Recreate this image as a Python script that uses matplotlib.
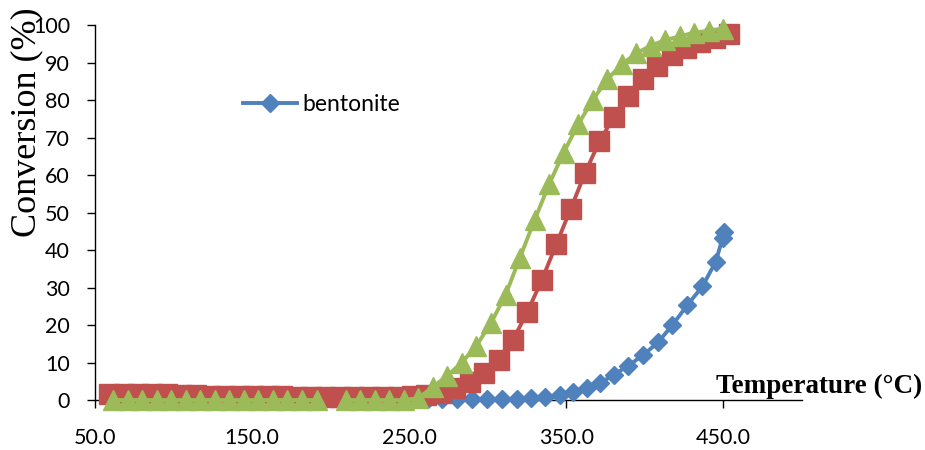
import matplotlib
matplotlib.use("Agg")
import matplotlib.pyplot as plt
from matplotlib.ticker import FormatStrFormatter
import numpy as np

# bentonite (blue diamonds)
temp_bent = [262, 271, 280.6, 290, 299.7, 309, 318.8, 327.5, 336.6, 346, 354.5,
             363.4, 371.7, 380.5, 389.5, 399, 408.6, 417.5, 427, 436.6, 445,
             449.5, 450.5]
conv_bent = [0.4, 0.4, 0.3, 0.3, 0.2, 0.2, 0.3, 0.5, 0.9, 1.4, 2.1,
             3.2, 4.6, 6.8, 9.2, 12, 15.5, 20, 25.3, 30.3, 36.8,
             43.2, 44.8]

# second sample (red squares)
temp_red = [59.0, 68.2, 77.4, 86.5, 95.7, 104.9, 114.1, 123.3, 132.4, 141.6,
            150.8, 160.0, 169.2, 178.3, 187.5, 196.7, 205.9, 215.1, 224.2, 233.4,
            242.6, 251.8, 261.0, 270.1, 279.3, 288.5, 297.7, 306.9, 316.0, 325.2,
            334.4, 343.6, 352.8, 361.9, 371.1, 380.3, 389.5, 398.7, 407.8, 417.0,
            426.2, 435.4, 444.6, 453.7]
conv_red = [1.7, 1.7, 1.7, 1.7, 1.5, 1.4, 1.3, 1.2, 1.1, 1.1,
            1.0, 1.0, 1.0, 0.9, 0.9, 0.9, 0.8, 0.8, 0.8, 0.8,
            0.9, 1.0, 1.3, 1.9, 3.2, 4.8, 7.2, 10.7, 16, 23.5,
            32, 41.5, 51, 60.5, 69, 75.5, 81, 85.5, 89, 92,
            94, 95.5, 96.5, 97.5]

# third sample (green triangles), one missing reading near 200
temp_grn = [61.5, 70.8, 80, 89.3, 98.5, 107.8, 117, 126.3, 135.5, 144.8,
            154, 163.3, 172.5, 181.8, 191, 200.3, 209.5, 218.8, 228, 237.3,
            246.5, 255.8, 265, 274.3, 283.5, 292.8, 302, 311.3, 320.5, 329.8,
            339, 348.3, 357.5, 366.8, 376, 385.3, 394.5, 403.8, 413, 422.3,
            431.5, 440.8, 450]
conv_grn = [0, 0, 0, 0, 0, 0, 0, 0, 0, 0,
            0, 0, 0, 0, 0, np.nan, 0, 0, 0, 0,
            0, 0.5, 3.5, 6.5, 10, 14.5, 20.5, 28, 38, 48,
            57.5, 66, 73.5, 80, 85.5, 89.5, 92.5, 94.5, 96, 97,
            98, 98.5, 99]

xticks = [50, 150, 250, 350, 450]
yticks = list(range(0, 101, 10))

fig = plt.figure(figsize=(9.25, 4.5), dpi=100)
ax = fig.add_axes([0.1027, 0.111, 0.7643, 0.8333])

lb, = ax.plot(temp_bent, conv_bent, color="#4F81BD", lw=2.8, marker="D",
              ms=9.3, mec="#4F81BD", clip_on=False, zorder=3, label="bentonite")
ax.plot(temp_red, conv_red, color="#C0504D", lw=2.8, marker="s",
        ms=13.8, mec="#C0504D", clip_on=False, zorder=4)
ax.plot(temp_grn, conv_grn, color="#9BBB59", lw=2.8, marker="^",
        ms=14.2, mec="#9BBB59", clip_on=False, zorder=5)

ax.set_xlim(50, 500)
ax.set_ylim(0, 100)
ax.set_xticks(xticks)
ax.set_yticks(yticks)
ax.xaxis.set_major_formatter(FormatStrFormatter("%.1f"))

for s in ["top", "right"]:
    ax.spines[s].set_visible(False)
for s in ["left", "bottom"]:
    ax.spines[s].set_linewidth(1.0)
    ax.spines[s].set_zorder(1)

ax.tick_params(axis="x", direction="out", length=6, width=1, pad=14,
               labelsize=15.5)
ax.tick_params(axis="y", direction="out", length=6, width=1, pad=12,
               labelsize=15.5)
for t in ax.get_xticklabels() + ax.get_yticklabels():
    t.set_fontfamily("Lato")

leg = ax.legend(handles=[lb], loc="center left", bbox_to_anchor=(0.209, 0.787),
                frameon=False, handlelength=2.35, handletextpad=0.25,
                borderpad=0, borderaxespad=0, numpoints=1,
                prop={"family": "Lato", "size": 16.5})

fig.text(27 / 925, 1 - 122 / 450, "Conversion (%)", rotation=90,
         ha="center", va="center", family="Liberation Serif", fontsize=26)
fig.text(922 / 925, 1 - 393 / 450, "Temperature (°C)", ha="right",
         va="baseline", family="Liberation Serif", fontweight="bold",
         fontsize=19.5)

fig.savefig("out.png", dpi=100)
